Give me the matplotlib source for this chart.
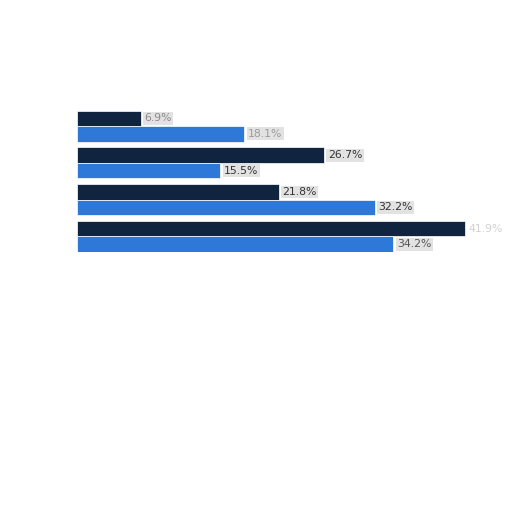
import matplotlib.pyplot as plt
import numpy as np

groups = ['A', 'B', 'C', 'D']
dark_vals = [6.9, 26.7, 21.8, 41.9]
blue_vals = [18.1, 15.5, 32.2, 34.2]
dark_labels = ['6.9%', '26.7%', '21.8%', '41.9%']
blue_labels = ['18.1%', '15.5%', '32.2%', '34.2%']

# label text shades (the top labels are washed out in the reference)
dark_txt = ['#8a8a8a', '#333333', '#333333', '#d0d0d0']
blue_txt = ['#9a9a9a', '#333333', '#333333', '#555555']

fig = plt.figure(figsize=(5.12, 5.12), dpi=100)
ax = fig.add_axes([0.150, 0.508, 0.85, 0.276])

y = np.arange(len(groups))
h = 0.42
ax.barh(y - h / 2, dark_vals, height=h, color='#10243f', edgecolor='white', linewidth=0.5)
ax.barh(y + h / 2, blue_vals, height=h, color='#2e78d8', edgecolor='white', linewidth=0.5)

for i in range(len(groups)):
    ax.text(dark_vals[i] + 0.4, y[i] - h / 2, dark_labels[i], va='center', ha='left',
            fontsize=7.8, color=dark_txt[i],
            bbox=dict(facecolor='#e2e2e2' if i < 3 else 'white', edgecolor='none', pad=1))
    ax.text(blue_vals[i] + 0.4, y[i] + h / 2, blue_labels[i], va='center', ha='left',
            fontsize=7.8, color=blue_txt[i],
            bbox=dict(facecolor='#e2e2e2', edgecolor='none', pad=1))

ax.set_xlim(0, 47)
ax.set_ylim(3.42, -0.42)
ax.axis('off')

fig.savefig('out.png', dpi=100)
